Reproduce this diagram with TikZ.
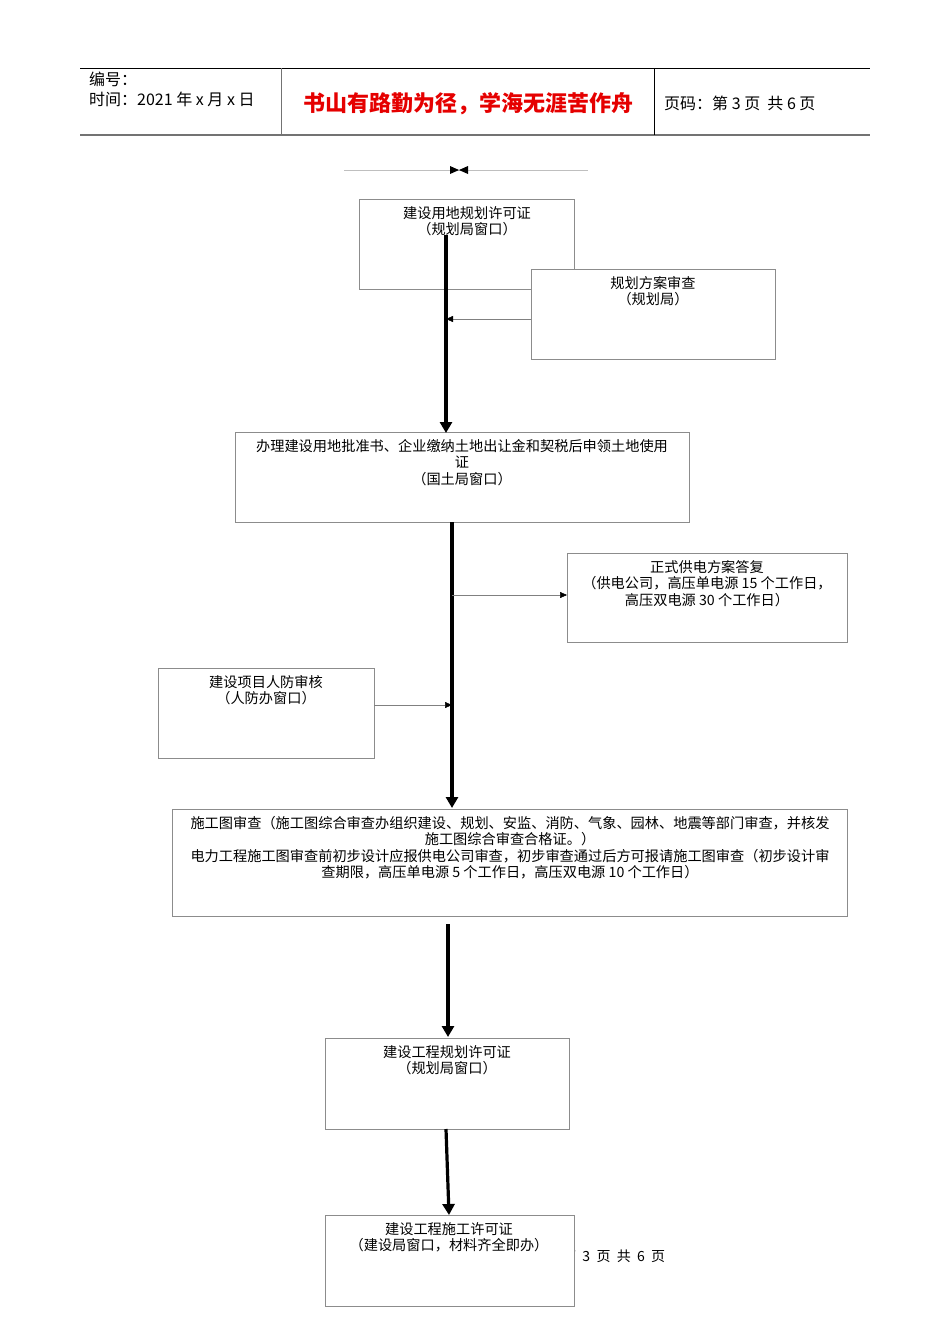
\documentclass[tikz,border=0pt]{standalone}
\usepackage{fontspec}
\setmainfont{Noto Sans CJK SC}
\usetikzlibrary{arrows.meta}
\begin{document}
\begin{tikzpicture}[x=1pt,y=-1pt,
  box/.style={draw=black!45,fill=white,line width=0.6pt},
  txt/.style={font=\fontsize{14.2}{16.5}\selectfont,align=center,inner sep=0pt,anchor=north},
  thick arr/.style={line width=3.2pt,-{Triangle[length=11pt,width=12pt]}},
  thin arr/.style={draw=black!50,line width=0.5pt,-{Triangle[length=7pt,width=6pt,color=black]}}]
\useasboundingbox (0,0) rectangle (950,1344);
% header
\draw[line width=0.8pt] (80,68) -- (870,68);
\draw[black!55,line width=1.2pt] (80,135) -- (870,135);
\draw[black!55,line width=0.8pt] (281,68) -- (281,135);
\draw[line width=0.6pt] (654,68) -- (654,135);
\node[anchor=west,inner sep=0,font=\fontsize{16}{18}\selectfont] (h1) at (89,79) {编号：};
\node[anchor=west,inner sep=0,font=\fontsize{16}{18}\selectfont] (h2) at (89,99) {时间：2021 年 x 月 x 日};
\node[inner sep=0,text=red!90!black,font=\fontsize{22}{24}\bfseries\selectfont] (h3) at (468,104) {书山有路勤为径，学海无涯苦作舟};
\node[anchor=west,inner sep=0,font=\fontsize{16}{18}\selectfont] (h4) at (664,103) {页码：第 3 页\ \ 共 6 页};
% small line with bowtie
\draw[black!25,line width=0.8pt] (344,170) -- (588,170);
\fill (450,166) -- (459,170) -- (450,174) -- cycle;
\fill (468,166) -- (459,170) -- (468,174) -- cycle;
% footer
\node[anchor=west,inner sep=0,font=\fontsize{14}{16}\selectfont] (ft) at (562,1256) {第\ \ 3\ \ 页\ \ 共\ \ 6\ \ 页};
% boxes
\draw[box] (359,199) rectangle (574,289);
\node[txt] (t1) at (467,206) {建设用地规划许可证\\（规划局窗口）};
\draw[box] (531,269) rectangle (775,359);
\node[txt] (t2) at (653,276) {规划方案审查\\（规划局）};
\draw[box] (235,432) rectangle (689,522);
\node[txt] (t3) at (462,439) {办理建设用地批准书、企业缴纳土地出让金和契税后申领土地使用\\证\\（国土局窗口）};
\draw[box] (567,553) rectangle (847,642);
\node[txt] (t4) at (707,560) {正式供电方案答复\\（供电公司，高压单电源 15 个工作日，\\高压双电源 30 个工作日）};
\draw[box] (158,668) rectangle (374,758);
\node[txt] (t5) at (266,675) {建设项目人防审核\\（人防办窗口）};
\draw[box] (172,809) rectangle (847,916);
\node[txt] (t6) at (510,816) {施工图审查（施工图综合审查办组织建设、规划、安监、消防、气象、园林、地震等部门审查，并核发\\施工图综合审查合格证。）\\电力工程施工图审查前初步设计应报供电公司审查，初步审查通过后方可报请施工图审查（初步设计审\\查期限，高压单电源 5 个工作日，高压双电源 10 个工作日）};
\draw[box] (325,1038) rectangle (569,1129);
\node[txt] (t7) at (447,1045) {建设工程规划许可证\\（规划局窗口）};
\draw[box] (325,1215) rectangle (574,1306);
\node[txt] (t8) at (449,1222) {建设工程施工许可证\\（建设局窗口，材料齐全即办）};
% connectors
\coordinate (a1) at (446,235); \coordinate (a2) at (446,433);
\draw[thick arr] (a1) -- (a2);
\coordinate (b1) at (531,319); \coordinate (b2) at (446,319);
\draw[thin arr] (b1) -- (b2);
\coordinate (c1) at (452,522); \coordinate (c2) at (452,808);
\draw[thick arr] (c1) -- (c2);
\coordinate (d1) at (452,595); \coordinate (d2) at (567,595);
\draw[thin arr] (d1) -- (d2);
\coordinate (e1) at (374,705); \coordinate (e2) at (452,705);
\draw[thin arr] (e1) -- (e2);
\coordinate (f1) at (448,924); \coordinate (f2) at (448,1037);
\draw[thick arr] (f1) -- (f2);
\coordinate (g1) at (446,1129); \coordinate (g2) at (449,1215);
\draw[thick arr] (g1) -- (g2);
\end{tikzpicture}
\end{document}
